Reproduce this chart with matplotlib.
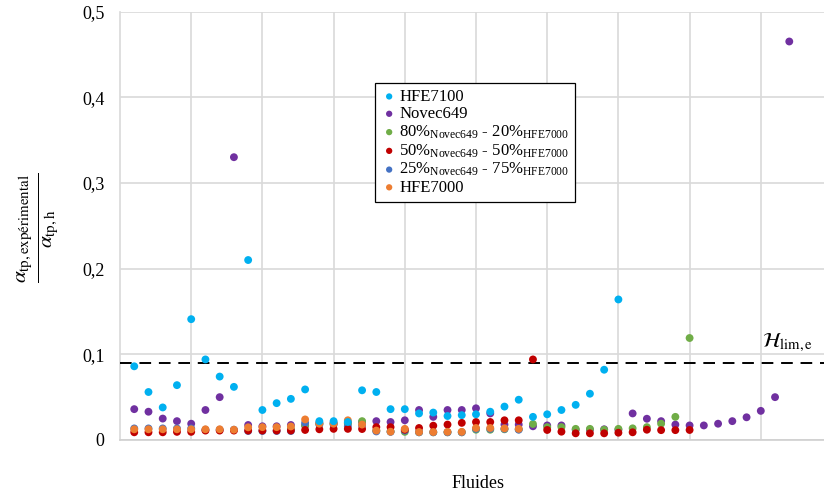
import matplotlib
matplotlib.use("Agg")
import matplotlib.pyplot as plt
import numpy as np

plt.rcParams['font.family'] = ['Liberation Serif', 'DejaVu Serif']
plt.rcParams['mathtext.fontset'] = 'custom'
plt.rcParams['mathtext.rm'] = 'Liberation Serif'
plt.rcParams['mathtext.it'] = 'Liberation Serif:italic'

N = None
fluid_index = list(range(1, 48))

hfe7100 = [0.086, 0.056, 0.038, 0.064, 0.141, 0.094, 0.074, 0.062, 0.210, 0.035,
           0.043, 0.048, 0.059, 0.022, 0.022, 0.021, 0.058, 0.056, 0.036, 0.036,
           0.031, 0.032, 0.028, 0.029, 0.030, 0.033, 0.039, 0.047, 0.027, 0.030,
           0.035, 0.041, 0.054, 0.082, 0.164, N, N, N, N, N,
           N, N, N, N, N, N, N]
novec649 = [0.036, 0.033, 0.025, 0.022, 0.019, 0.035, 0.050, 0.330, 0.0175, 0.016,
            0.016, 0.0175, 0.017, 0.020, 0.020, 0.020, 0.021, 0.022, 0.021, 0.023,
            0.035, 0.027, 0.035, 0.035, 0.037, 0.031, 0.018, 0.018, 0.016, 0.017,
            0.017, 0.012, 0.012, 0.0125, 0.012, 0.031, 0.0248, 0.022, 0.018, 0.017,
            0.017, 0.019, 0.022, 0.0265, 0.034, 0.050, 0.465]
mix_80_20 = [N, N, N, N, N, N, N, N, N, N,
             N, 0.013, 0.017, 0.019, 0.019, 0.019, 0.022, 0.011, 0.010, 0.0095,
             0.009, 0.009, 0.009, 0.009, 0.012, 0.012, 0.0125, 0.0125, 0.0187, 0.015,
             0.015, 0.013, 0.013, 0.012, 0.013, 0.0136, 0.015, 0.019, 0.027, 0.119,
             N, N, N, N, N, N, N]
mix_50_50 = [0.009, 0.009, 0.009, 0.0095, 0.0095, 0.011, 0.011, 0.011, 0.011, 0.011,
             0.011, 0.011, 0.0117, 0.0125, 0.013, 0.013, 0.0128, 0.015, 0.015, 0.012,
             0.014, 0.0167, 0.018, 0.020, 0.021, 0.021, 0.023, 0.023, 0.094, 0.0117,
             0.0097, 0.0078, 0.0078, 0.0078, 0.0085, 0.009, 0.012, 0.0115, 0.0115, 0.0117,
             N, N, N, N, N, N, N]
mix_25_75 = [0.0135, 0.0135, 0.0135, 0.0135, 0.0135, 0.012, 0.012, 0.012, 0.0105, 0.0105,
             0.0105, 0.0105, 0.020, 0.018, 0.018, 0.016, 0.017, 0.010, 0.0095, 0.011,
             0.009, 0.009, 0.009, 0.009, 0.013, 0.013, 0.013, 0.012, N, N,
             N, N, N, N, N, N, N, N, N, N,
             N, N, N, N, N, N, N]
hfe7000 = [0.0125, 0.0125, 0.0125, 0.0125, 0.0125, 0.0125, 0.0125, 0.012, 0.0148, 0.015,
           0.015, 0.0158, 0.024, 0.019, 0.019, 0.023, 0.018, 0.011, 0.0097, 0.013,
           0.0093, 0.0093, 0.0095, 0.0095, 0.014, 0.014, 0.0136, 0.013, N, N,
           N, N, N, N, N, N, N, N, N, N,
           N, N, N, N, N, N, N]

h_lim = 0.09
y_ticks = [0, 0.1, 0.2, 0.3, 0.4, 0.5]
y_tick_labels = ['0', '0,1', '0,2', '0,3', '0,4', '0,5']

labels = ['HFE7100', 'Novec649',
          r'80%$_{\mathrm{Novec649}}$ - 20%$_{\mathrm{HFE7000}}$',
          r'50%$_{\mathrm{Novec649}}$ - 50%$_{\mathrm{HFE7000}}$',
          r'25%$_{\mathrm{Novec649}}$ - 75%$_{\mathrm{HFE7000}}$',
          'HFE7000']
colors = ['#00B0F0', '#7030A0', '#70AD47', '#C00000', '#4472C4', '#ED7D31']
series = [hfe7100, novec649, mix_80_20, mix_50_50, mix_25_75, hfe7000]
zorders = [8, 4, 5, 6, 5.5, 7]

W, H = 824, 499
fig = plt.figure(figsize=(W / 100, H / 100), dpi=100)
ax = fig.add_axes([120 / W, (H - 440) / H, (W - 120) / W, (440 - 11.5) / H])

x = np.array(fluid_index, dtype=float)
handles = []
for vals, lab, col, z in zip(series, labels, colors, zorders):
    y = np.array([np.nan if v is None else v for v in vals], dtype=float)
    h = ax.scatter(x, y, s=32, color=col, edgecolors='none', zorder=z, label=lab)
    handles.append(h)

ax.axhline(h_lim, color='black', lw=1.4, ls=(0, (6, 4)), zorder=3)
ax.text(45.1, 0.1005, r'$\mathcal{H}_{\mathrm{lim,e}}$', fontsize=15, ha='left',
        va='bottom', math_fontfamily='stix')

ax.set_xlim(0, (W - 120) / 14.24)
ax.set_ylim(0, 0.5)
ax.set_yticks(y_ticks)
ax.set_yticklabels(y_tick_labels, fontsize=13)
ax.set_xticks(np.arange(5, 50, 5))
ax.set_xticklabels([])
ax.tick_params(axis='both', length=0, pad=11)
ax.grid(True, color='#D9D9D9', lw=1.2, zorder=0)
ax.set_axisbelow(True)
for s in ['top', 'right']:
    ax.spines[s].set_visible(False)
ax.spines['left'].set_color('#D9D9D9')
ax.spines['bottom'].set_color('#D0D0D0')
ax.spines['left'].set_linewidth(1.2)
ax.spines['bottom'].set_linewidth(1.2)

fig.text(478 / W, 1 - 484 / H, 'Fluides', fontsize=13, ha='center', va='center')
fig.text(38 / W, 1 - 228 / H,
         r'$\frac{\alpha_{\mathrm{tp,expérimental}}}{\alpha_{\mathrm{tp,h}}}$',
         fontsize=22, rotation=90, ha='center', va='center', math_fontfamily='stix')

leg = ax.legend(handles=handles, loc='upper left',
                bbox_to_anchor=(375 / W, 1 - 83 / H), bbox_transform=fig.transFigure,
                fontsize=12, frameon=True, fancybox=False, edgecolor='black',
                framealpha=1, borderpad=0.35, labelspacing=0.08, handletextpad=0.1,
                handlelength=1.0, markerscale=0.8, borderaxespad=0)
leg.get_frame().set_linewidth(0.9)
leg.set_zorder(10)

fig.savefig('out.png', dpi=100)
